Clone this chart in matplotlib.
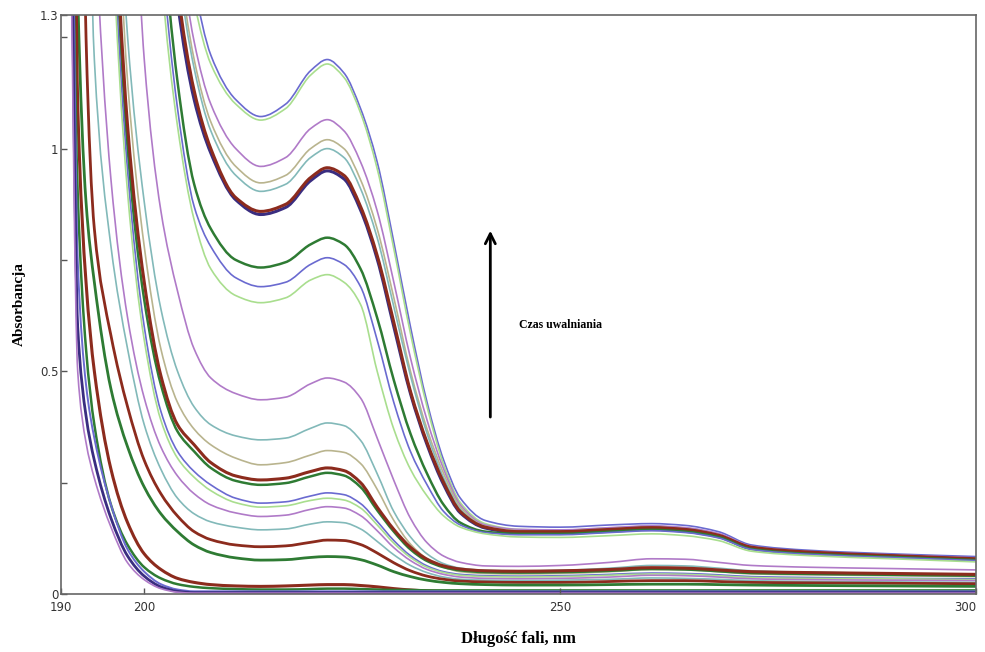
import numpy as np
import matplotlib
matplotlib.use("Agg")
import matplotlib.pyplot as plt
from matplotlib.path import Path
from matplotlib.patches import PathPatch

# wavelength grid (nm) shared by all spectra
wl = [190, 191, 192, 193, 194, 196, 198, 200, 202, 204, 206, 208, 211, 214, 217, 220, 222, 224,
      226, 228, 230, 232, 234, 236, 238, 241, 245, 250, 256, 261, 265, 269, 273, 280, 290, 300]

# absorbance (values > 1.3 are off-scale)
a01 = [3, 3, 3, 3, 3, 3, 3, 3, 2.2, 1.65, 1.37, 1.21, 1.11, 1.072, 1.10, 1.175, 1.20, 1.17,
       1.09, 0.97, 0.79, 0.60, 0.43, 0.30, 0.215, 0.165, 0.152, 0.150, 0.155, 0.158, 0.154, 0.140, 0.110, 0.098, 0.090, 0.084]
a02 = [3, 3, 3, 3, 3, 3, 3, 3, 2.1, 1.6, 1.33, 1.19, 1.10, 1.064, 1.09, 1.165, 1.19, 1.16,
       1.08, 0.955, 0.775, 0.585, 0.42, 0.29, 0.205, 0.158, 0.145, 0.143, 0.148, 0.152, 0.148, 0.134, 0.106, 0.094, 0.087, 0.080]
a03 = [3, 3, 3, 3, 3, 3, 3, 3, 1.95, 1.5, 1.24, 1.10, 1.0, 0.96, 0.98, 1.045, 1.065, 1.04,
       0.97, 0.86, 0.70, 0.53, 0.39, 0.28, 0.20, 0.155, 0.145, 0.144, 0.149, 0.153, 0.149, 0.136, 0.107, 0.095, 0.088, 0.081]
a04 = [3, 3, 3, 3, 3, 3, 3, 3, 1.9, 1.45, 1.2, 1.06, 0.96, 0.923, 0.94, 1.0, 1.02, 1.0,
       0.93, 0.82, 0.665, 0.50, 0.37, 0.27, 0.195, 0.152, 0.142, 0.141, 0.146, 0.150, 0.146, 0.133, 0.105, 0.093, 0.086, 0.079]
a05 = [3, 3, 3, 3, 3, 3, 3, 3, 1.88, 1.42, 1.18, 1.04, 0.94, 0.904, 0.92, 0.98, 1.0, 0.98,
       0.91, 0.80, 0.645, 0.49, 0.36, 0.26, 0.19, 0.150, 0.140, 0.139, 0.144, 0.148, 0.144, 0.131, 0.103, 0.092, 0.085, 0.078]
a06 = [3, 3, 3, 3, 3, 3, 3, 3, 1.8, 1.36, 1.13, 1.0, 0.89, 0.859, 0.875, 0.935, 0.957, 0.94,
       0.87, 0.76, 0.61, 0.455, 0.34, 0.25, 0.185, 0.150, 0.140, 0.140, 0.145, 0.149, 0.145, 0.132, 0.105, 0.094, 0.086, 0.079]
a07 = [3, 3, 3, 3, 3, 3, 3, 3, 1.76, 1.33, 1.11, 0.99, 0.885, 0.852, 0.868, 0.928, 0.95, 0.932,
       0.862, 0.752, 0.60, 0.45, 0.335, 0.245, 0.182, 0.148, 0.138, 0.138, 0.143, 0.147, 0.143, 0.130, 0.103, 0.092, 0.085, 0.077]
a08 = [3, 3, 3, 3, 3, 3, 3, 2.3, 1.55, 1.15, 0.92, 0.82, 0.75, 0.733, 0.745, 0.785, 0.80, 0.785,
       0.73, 0.62, 0.48, 0.36, 0.27, 0.20, 0.16, 0.140, 0.135, 0.135, 0.140, 0.144, 0.140, 0.128, 0.101, 0.090, 0.083, 0.076]
a09 = [3, 3, 3, 3, 3, 3, 3, 2.2, 1.47, 1.09, 0.87, 0.78, 0.71, 0.69, 0.70, 0.74, 0.755, 0.74,
       0.69, 0.57, 0.43, 0.32, 0.245, 0.185, 0.155, 0.138, 0.133, 0.133, 0.138, 0.142, 0.138, 0.126, 0.100, 0.089, 0.082, 0.075]
a10 = [3, 3, 3, 3, 3, 3, 3, 2.1, 1.4, 1.05, 0.84, 0.73, 0.67, 0.654, 0.665, 0.705, 0.717, 0.70,
       0.65, 0.50, 0.37, 0.28, 0.22, 0.175, 0.15, 0.135, 0.128, 0.127, 0.131, 0.135, 0.131, 0.120, 0.096, 0.086, 0.079, 0.072]
a11 = [3, 3, 3, 3, 3, 3, 2.0, 1.2, 0.86, 0.68, 0.55, 0.485, 0.45, 0.436, 0.442, 0.472, 0.485, 0.476,
       0.44, 0.35, 0.255, 0.17, 0.115, 0.085, 0.071, 0.063, 0.062, 0.064, 0.071, 0.079, 0.078, 0.071, 0.064, 0.060, 0.057, 0.054]
a12 = [3, 3, 3, 3, 3, 2.0, 1.25, 0.88, 0.64, 0.50, 0.42, 0.38, 0.355, 0.346, 0.35, 0.372, 0.384, 0.378,
       0.345, 0.27, 0.185, 0.128, 0.09, 0.068, 0.058, 0.053, 0.052, 0.053, 0.058, 0.064, 0.063, 0.058, 0.052, 0.049, 0.046, 0.044]
a13 = [3, 3, 3, 3, 3, 1.9, 1.15, 0.78, 0.55, 0.43, 0.37, 0.335, 0.305, 0.29, 0.295, 0.312, 0.322, 0.318,
       0.293, 0.235, 0.165, 0.112, 0.079, 0.06, 0.05, 0.046, 0.045, 0.046, 0.050, 0.055, 0.054, 0.050, 0.045, 0.043, 0.041, 0.039]
a14 = [3, 3, 3, 3, 3, 1.75, 1.05, 0.70, 0.49, 0.38, 0.335, 0.295, 0.265, 0.256, 0.26, 0.275, 0.283, 0.277,
       0.25, 0.195, 0.145, 0.105, 0.078, 0.063, 0.056, 0.052, 0.051, 0.052, 0.055, 0.059, 0.058, 0.054, 0.050, 0.048, 0.046, 0.044]
a15 = [3, 3, 3, 3, 3, 1.7, 1.0, 0.66, 0.47, 0.365, 0.32, 0.283, 0.254, 0.245, 0.249, 0.264, 0.272, 0.266,
       0.24, 0.188, 0.14, 0.10, 0.074, 0.06, 0.053, 0.049, 0.048, 0.049, 0.052, 0.056, 0.055, 0.051, 0.047, 0.045, 0.043, 0.041]
a16 = [3, 3, 3, 3, 3, 1.6, 0.95, 0.60, 0.41, 0.32, 0.275, 0.245, 0.215, 0.204, 0.207, 0.22, 0.227, 0.223,
       0.203, 0.163, 0.12, 0.086, 0.063, 0.05, 0.044, 0.041, 0.040, 0.041, 0.044, 0.047, 0.046, 0.043, 0.039, 0.037, 0.035, 0.034]
a17 = [3, 3, 3, 3, 3, 1.55, 0.90, 0.57, 0.39, 0.305, 0.262, 0.232, 0.205, 0.195, 0.198, 0.21, 0.215, 0.211,
       0.193, 0.155, 0.114, 0.082, 0.06, 0.048, 0.042, 0.039, 0.038, 0.039, 0.042, 0.045, 0.044, 0.041, 0.037, 0.035, 0.034, 0.032]
a18 = [3, 3, 3, 2.2, 1.55, 0.93, 0.62, 0.44, 0.33, 0.265, 0.225, 0.20, 0.182, 0.174, 0.177, 0.19, 0.196, 0.193,
       0.176, 0.142, 0.104, 0.075, 0.055, 0.044, 0.038, 0.035, 0.034, 0.035, 0.038, 0.042, 0.041, 0.038, 0.034, 0.032, 0.031, 0.030]
a19 = [3, 3, 3, 2.0, 1.2, 0.78, 0.55, 0.38, 0.28, 0.215, 0.18, 0.162, 0.15, 0.144, 0.146, 0.157, 0.162, 0.16,
       0.146, 0.118, 0.088, 0.064, 0.048, 0.038, 0.033, 0.031, 0.030, 0.031, 0.033, 0.036, 0.035, 0.033, 0.030, 0.028, 0.027, 0.026]
a20 = [3, 3, 3, 1.25, 0.82, 0.58, 0.42, 0.30, 0.225, 0.175, 0.14, 0.122, 0.11, 0.106, 0.108, 0.116, 0.121, 0.12,
       0.111, 0.092, 0.07, 0.052, 0.04, 0.033, 0.029, 0.027, 0.026, 0.026, 0.028, 0.030, 0.030, 0.028, 0.026, 0.025, 0.024, 0.023]
a21 = [3, 3, 1.35, 0.88, 0.70, 0.46, 0.33, 0.24, 0.18, 0.14, 0.11, 0.093, 0.081, 0.076, 0.077, 0.082, 0.084, 0.083,
       0.077, 0.065, 0.05, 0.039, 0.031, 0.026, 0.023, 0.021, 0.020, 0.020, 0.021, 0.022, 0.022, 0.021, 0.020, 0.019, 0.018, 0.017]
a22 = [3, 3, 1.1, 0.70, 0.50, 0.28, 0.16, 0.09, 0.055, 0.035, 0.026, 0.021, 0.018, 0.017, 0.018, 0.02, 0.021, 0.021,
       0.019, 0.016, 0.012, 0.009, 0.007, 0.006, 0.006, 0.005, 0.005, 0.005, 0.005, 0.005, 0.005, 0.005, 0.005, 0.005, 0.005, 0.005]
a23 = [3, 2.0, 0.90, 0.55, 0.38, 0.20, 0.11, 0.06, 0.035, 0.022, 0.016, 0.013, 0.011, 0.010, 0.010, 0.011, 0.012, 0.012,
       0.011, 0.010, 0.009, 0.009, 0.008, 0.008, 0.008, 0.008, 0.008, 0.008, 0.008, 0.008, 0.008, 0.008, 0.008, 0.008, 0.008, 0.008]
a24 = [3, 2.2, 0.75, 0.47, 0.35, 0.20, 0.10, 0.05, 0.022, 0.010, 0.006, 0.006, 0.006, 0.006, 0.006, 0.006, 0.006, 0.006,
       0.006, 0.006, 0.006, 0.006, 0.006, 0.006, 0.006, 0.006, 0.006, 0.006, 0.006, 0.006, 0.006, 0.006, 0.006, 0.006, 0.006, 0.006]
a25 = [3, 1.9, 0.60, 0.40, 0.30, 0.17, 0.085, 0.04, 0.016, 0.006, 0.003, 0.003, 0.003, 0.003, 0.003, 0.003, 0.003, 0.003,
       0.003, 0.003, 0.003, 0.003, 0.003, 0.003, 0.003, 0.003, 0.003, 0.003, 0.003, 0.003, 0.003, 0.003, 0.003, 0.003, 0.003, 0.003]
a26 = [3, 1.7, 0.50, 0.34, 0.26, 0.15, 0.07, 0.032, 0.012, 0.004, 0.002, 0.002, 0.002, 0.002, 0.002, 0.002, 0.002, 0.002,
       0.002, 0.002, 0.002, 0.002, 0.002, 0.002, 0.002, 0.002, 0.002, 0.002, 0.002, 0.002, 0.002, 0.002, 0.002, 0.002, 0.002, 0.002]

xticks = [190, 200, 250, 300]
yticks = [0, 0.25, 0.5, 0.75, 1, 1.25, 1.3]
ylabels = ['0', '', '0.5', '', '1', '', '1.3']

# colours similar to the matlab palette in the picture
blue = '#6a6ad0'
lgreen = '#a9de8e'
purple = '#b07ac8'
khaki = '#b9b48e'
teal = '#82b9b9'
brown = '#8c2b1d'
navy = '#3a2d80'
dgreen = '#2e7b33'

series = [
    (a01, blue, 1.2), (a02, lgreen, 1.2), (a03, purple, 1.2), (a04, khaki, 1.2), (a05, teal, 1.2),
    (a07, navy, 2.2), (a06, brown, 2.2), (a08, dgreen, 1.8), (a09, blue, 1.2), (a10, lgreen, 1.2),
    (a11, purple, 1.2), (a12, teal, 1.2), (a13, khaki, 1.2), (a15, dgreen, 1.8), (a14, brown, 2.2),
    (a16, blue, 1.2), (a17, lgreen, 1.2), (a18, purple, 1.2), (a19, teal, 1.2), (a20, brown, 2.0),
    (a21, dgreen, 2.0), (a22, brown, 2.2), (a23, dgreen, 1.8), (a24, blue, 1.4), (a25, navy, 2.0),
    (a26, purple, 1.2),
]


def smooth_path(x, y):
    # bezier path through the read points, monotone (pchip-style) slopes so nothing overshoots
    x = np.asarray(x, float)
    y = np.asarray(y, float)
    h = np.diff(x)
    d = np.diff(y) / h
    m = np.zeros_like(y)
    m[0], m[-1] = d[0], d[-1]
    for k in range(1, len(x) - 1):
        if d[k - 1] * d[k] > 0:
            w1 = 2 * h[k] + h[k - 1]
            w2 = h[k] + 2 * h[k - 1]
            m[k] = (w1 + w2) / (w1 / d[k - 1] + w2 / d[k])
    verts = [(x[0], y[0])]
    codes = [Path.MOVETO]
    for k in range(len(x) - 1):
        verts += [(x[k] + h[k] / 3, y[k] + m[k] * h[k] / 3),
                  (x[k + 1] - h[k] / 3, y[k + 1] - m[k + 1] * h[k] / 3),
                  (x[k + 1], y[k + 1])]
        codes += [Path.CURVE4] * 3
    return Path(verts, codes)


fig = plt.figure(figsize=(9.85, 6.52), dpi=100)
ax = fig.add_axes([0.062, 0.089, 0.929, 0.888])

for vals, col, lw in series:
    ax.add_patch(PathPatch(smooth_path(wl, vals), fill=False, edgecolor=col, lw=lw,
                           joinstyle='round', capstyle='round'))

ax.set_xlim(190, 300)
ax.set_ylim(0, 1.3)
ax.set_xticks(xticks)
ax.set_xticklabels([str(t) for t in xticks])
ax.get_xticklabels()[-1].set_ha('right')
ax.set_yticks(yticks)
ax.set_yticklabels(ylabels)
ax.tick_params(direction='in', length=4, width=1, colors='#555555', labelcolor='#333333',
               labelsize=8.5)
ax.tick_params(axis='x', pad=5)
ax.tick_params(axis='y', pad=2)
for s in ax.spines.values():
    s.set_color('#666666')
    s.set_linewidth(1.2)

ax.set_xlabel('Długość fali, nm', family='Liberation Serif', fontweight='bold', fontsize=12, labelpad=12)
ax.set_ylabel('Absorbancja', family='Liberation Serif', fontweight='bold', fontsize=11, labelpad=10)

# arrow marking release time
ax.annotate('', xy=(241.6, 0.822), xytext=(241.6, 0.391),
            arrowprops=dict(arrowstyle='->', color='black', lw=2, mutation_scale=18))
ax.text(245.1, 0.605, 'Czas uwalniania', family='Liberation Serif', fontweight='bold',
        fontsize=8.5, va='center', ha='left')

fig.savefig('out.png', dpi=100)
